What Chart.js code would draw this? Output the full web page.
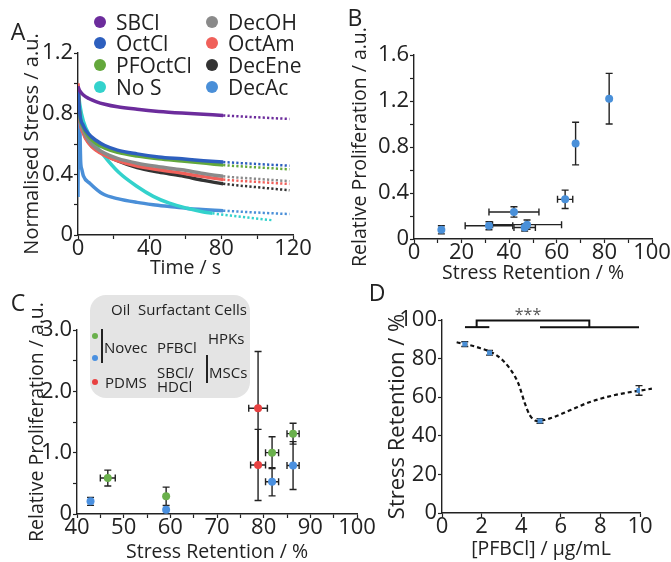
<!DOCTYPE html>
<html>
<head>
<meta charset="utf-8">
<script src="https://cdn.jsdelivr.net/npm/chart.js@4.4.0/dist/chart.umd.min.js"></script>
<style>
  body { margin: 0; background: #fff; font-family: "Open Sans", sans-serif; color: #222; }
  #wrap { position: relative; width: 671px; height: 562px; overflow: hidden; }
  canvas { position: absolute; left: 0; top: 0; }
  .t { position: absolute; white-space: nowrap; transform: translateY(-50%); line-height: 1; }
  .c { transform: translate(-50%, -50%); }
  .dot { position: absolute; border-radius: 50%; transform: translate(-50%, -50%); }
  .bar { position: absolute; width: 2px; background: #222; }
  #keyC { position: absolute; left: 90px; top: 295px; width: 160px; height: 103px; background: #e4e4e4; border-radius: 16px; }
</style>
</head>
<body>
<div id="wrap">
  <div id="keyC"></div>
  <canvas id="chartA" width="671" height="562"></canvas>
  <canvas id="chartB" width="671" height="562"></canvas>
  <canvas id="chartC" width="671" height="562"></canvas>
  <canvas id="chartD" width="671" height="562"></canvas>
  <div id="labels"></div>
</div>
<script>
// ---- A: stress relaxation (time in s, normalised stress) ----
const relaxTime = [0, 1, 3, 6, 10, 15, 22, 33, 45, 58, 70, 81, 100, 118];
const sbcl    = [0.98, 0.95, 0.923, 0.90, 0.88, 0.862, 0.845, 0.829, 0.815, 0.804, 0.796, 0.788, 0.776, 0.765];
const octcl   = [0.97, 0.80, 0.72, 0.665, 0.625, 0.59, 0.56, 0.535, 0.515, 0.502, 0.49, 0.481, 0.468, 0.457];
const pfoctcl = [0.96, 0.79, 0.71, 0.65, 0.605, 0.572, 0.545, 0.521, 0.503, 0.488, 0.474, 0.461, 0.446, 0.433];
const decoh   = [0.97, 0.78, 0.69, 0.62, 0.575, 0.538, 0.505, 0.473, 0.45, 0.43, 0.405, 0.387, 0.37, 0.355];
const octam   = [1.0, 0.77, 0.67, 0.605, 0.56, 0.525, 0.49, 0.455, 0.43, 0.408, 0.385, 0.366, 0.35, 0.336];
const decene  = [0.97, 0.78, 0.68, 0.61, 0.565, 0.53, 0.49, 0.444, 0.415, 0.39, 0.36, 0.338, 0.315, 0.295];
const noSTime = [0, 1, 3, 6.7, 14, 23, 33, 42, 51, 61, 70, 75, 85, 95, 108];
const noS     = [0.97, 0.86, 0.75, 0.65, 0.53, 0.41, 0.32, 0.255, 0.21, 0.176, 0.152, 0.143, 0.128, 0.115, 0.098];
const decAcTime = [0, 0.3, 0.6, 1, 1.5, 2.2, 3, 6.7, 14, 22, 33, 42, 51, 61, 81, 100, 118];
const decAc     = [0.25, 0.85, 0.55, 0.7, 0.48, 0.43, 0.39, 0.34, 0.27, 0.24, 0.215, 0.2, 0.188, 0.175, 0.16, 0.148, 0.138];

// ---- B: proliferation vs stress retention ----
const bRetention = [11.5, 31.5, 42, 46.5, 47.5, 63.5, 67.9, 82];
const bRetErr    = [0, 10, 10.5, 4.5, 14.5, 3.2, 0, 0];
const bProlif    = [0.08, 0.115, 0.235, 0.10, 0.125, 0.345, 0.83, 1.22];
const bProlifErr = [0.035, 0.035, 0.045, 0.03, 0.04, 0.08, 0.185, 0.22];

// ---- C: Novec/PFBCl (HPKs, MSCs) and PDMS/SBCl-HDCl (MSCs) ----
const hpkRet = [46.6, 59.1, 81.8, 86.3];
const hpkRetErr = [1.6, 0, 1.4, 1.3];
const hpkProlif = [0.586, 0.288, 1.0, 1.31];
const hpkProlifErr = [0.13, 0.15, 0.26, 0.17];
const mscRet = [42.9, 59.1, 81.8, 86.3];
const mscRetErr = [0, 0, 1.4, 1.3];
const mscProlif = [0.206, 0.07, 0.526, 0.79];
const mscProlifErr = [0.065, 0, 0.23, 0.39];
const pdmsRet = [78.8, 78.8];
const pdmsRetErr = [2, 1.6];
const pdmsProlif = [1.725, 0.80];
const pdmsProlifErr = [0.925, 0.58];

// ---- D: stress retention vs PFBCl concentration ----
const dConc = [1.15, 2.4, 4.95, 9.95];
const dRet = [87.5, 83, 47.7, 63.5];
const dRetErr = [1.2, 1.2, 1.2, 2.5];
const fitConc = [0.74, 1.75, 2.76, 3.43, 3.86, 4.19, 4.44, 4.78, 5.45, 6.46, 7.47, 8.82, 10.6];
const fitRet  = [88.5, 86, 81.7, 74.8, 67, 56.7, 50.6, 47.7, 49, 53.2, 57.5, 61.3, 64.4];
const sigGroupLow = [1.16, 2.39];
const sigGroupHigh = [4.95, 9.95];
const sigBracketX = [1.75, 7.44];
const sigBarY = 96.3;
const sigBracketY = 99.7;

const INK = '#222';
Chart.defaults.font.family = '"Open Sans", sans-serif';
Chart.defaults.color = INK;
Chart.defaults.animation = false;
Chart.defaults.plugins.legend.display = false;
Chart.defaults.plugins.tooltip.enabled = false;

const zip = (xs, ys) => xs.map((x, i) => ({x, y: ys[i]}));

// draws x/y error bars with caps, under the points
const errorBars = {
  id: 'errorBars',
  beforeDatasetsDraw(chart) {
    const {ctx, scales: {x, y}} = chart;
    ctx.save();
    ctx.strokeStyle = INK;
    ctx.lineWidth = 1.4;
    chart.data.datasets.forEach(ds => {
      if (!ds.yErr && !ds.xErr) return;
      ds.data.forEach((p, i) => {
        const px = x.getPixelForValue(p.x), py = y.getPixelForValue(p.y);
        const ye = ds.yErr ? ds.yErr[i] : 0, xe = ds.xErr ? ds.xErr[i] : 0;
        ctx.beginPath();
        if (ye) {
          const y1 = y.getPixelForValue(p.y + ye), y2 = y.getPixelForValue(p.y - ye);
          ctx.moveTo(px, y1); ctx.lineTo(px, y2);
          ctx.moveTo(px - 3.5, y1); ctx.lineTo(px + 3.5, y1);
          ctx.moveTo(px - 3.5, y2); ctx.lineTo(px + 3.5, y2);
        }
        if (xe) {
          const x1 = x.getPixelForValue(p.x - xe), x2 = x.getPixelForValue(p.x + xe);
          ctx.moveTo(x1, py); ctx.lineTo(x2, py);
          ctx.moveTo(x1, py - 3.5); ctx.lineTo(x1, py + 3.5);
          ctx.moveTo(x2, py - 3.5); ctx.lineTo(x2, py + 3.5);
        }
        ctx.stroke();
      });
    });
    ctx.restore();
  }
};

function axis(o) {
  return {
    type: 'linear', min: o.min, max: o.max,
    border: {color: INK, width: 1.4},
    grid: {drawOnChartArea: false, color: INK, tickLength: 4, tickWidth: 1.2},
    ticks: {
      stepSize: o.step, autoSkip: false, maxRotation: 0, includeBounds: false,
      padding: o.tickPad ?? 1, font: {size: 22, lineHeight: 1}, color: INK,
      callback: v => Math.round((v - o.min) / o.step) % (o.every || 1) ? '' : o.fmt(v)
    },
    title: {display: true, text: o.title, color: INK,
      font: {size: o.titleSize || 19.5, lineHeight: 1}, padding: o.titlePad},
    afterFit: s => { if (o.width) s.width = o.width; if (o.height) s.height = o.height; }
  };
}
const dec1 = v => v === 0 ? '0' : v.toFixed(1);
const int = v => String(Math.round(v));

// ---------- A ----------
const seriesA = [
  {label: 'SBCl', t: relaxTime, v: sbcl, color: '#6c2c9c', dashFrom: 80},
  {label: 'OctCl', t: relaxTime, v: octcl, color: '#2d5fbe', dashFrom: 80},
  {label: 'PFOctCl', t: relaxTime, v: pfoctcl, color: '#64a83c', dashFrom: 80},
  {label: 'DecOH', t: relaxTime, v: decoh, color: '#8a8a8a', dashFrom: 80},
  {label: 'OctAm', t: relaxTime, v: octam, color: '#f0605a', dashFrom: 80},
  {label: 'DecEne', t: relaxTime, v: decene, color: '#333333', dashFrom: 80},
  {label: 'No S', t: noSTime, v: noS, color: '#33d2cc', dashFrom: 74},
  {label: 'DecAc', t: decAcTime, v: decAc, color: '#4a8fd8', dashFrom: 80}
];
new Chart(document.getElementById('chartA'), {
  type: 'scatter',
  data: {
    datasets: seriesA.map(s => ({
      label: s.label, data: zip(s.t, s.v), showLine: true,
      borderColor: s.color, borderWidth: 3.5, pointRadius: 0,
      cubicInterpolationMode: 'monotone',
      segment: {
        borderDash: ctx => ctx.p0.parsed.x >= s.dashFrom ? [2.2, 2.2] : undefined,
        borderWidth: ctx => ctx.p0.parsed.x >= s.dashFrom ? 2.5 : undefined
      }
    }))
  },
  options: {
    responsive: false,
    layout: {padding: {left: 0, top: 53, right: 378, bottom: 272}},
    scales: {
      x: axis({min: 0, max: 120, step: 20, every: 2, fmt: int, title: 'Time / s',
        height: 55, tickPad: -1, titlePad: {bottom: 12}}),
      y: axis({min: 0, max: 1.2, step: 0.2, every: 2, fmt: dec1, title: 'Normalised Stress / a.u.',
        width: 78, titleSize: 20, titlePad: {top: 22}})
    }
  }
});

// ---------- B ----------
new Chart(document.getElementById('chartB'), {
  type: 'scatter',
  data: {
    datasets: [{
      data: zip(bRetention, bProlif), xErr: bRetErr, yErr: bProlifErr,
      pointRadius: 4, backgroundColor: '#4a90d9', borderWidth: 0
    }]
  },
  options: {
    responsive: false,
    layout: {padding: {left: 344, top: 55, right: 19, bottom: 272}},
    scales: {
      x: axis({min: 0, max: 100, step: 10, every: 2, fmt: int, title: 'Stress Retention / %',
        height: 51, tickPad: -1, titlePad: {bottom: 7}}),
      y: axis({min: 0, max: 1.6, step: 0.2, every: 2, fmt: dec1, title: 'Relative Proliferation / a.u.',
        width: 70, titlePad: {top: 7}})
    }
  },
  plugins: [errorBars]
});

// ---------- C ----------
new Chart(document.getElementById('chartC'), {
  type: 'scatter',
  data: {
    datasets: [
      {data: zip(hpkRet, hpkProlif), xErr: hpkRetErr, yErr: hpkProlifErr,
        pointRadius: 4, backgroundColor: '#6ab04c', borderWidth: 0},
      {data: zip(mscRet, mscProlif), xErr: mscRetErr, yErr: mscProlifErr,
        pointRadius: 4, backgroundColor: '#4a90e0', borderWidth: 0},
      {data: zip(pdmsRet, pdmsProlif), xErr: pdmsRetErr, yErr: pdmsProlifErr,
        pointRadius: 4, backgroundColor: '#e84141', borderWidth: 0}
    ]
  },
  options: {
    responsive: false,
    layout: {padding: {left: 0, top: 330, right: 314, bottom: 0}},
    scales: {
      x: axis({min: 40, max: 100, step: 5, every: 2, fmt: int, title: 'Stress Retention / %',
        height: 48, tickPad: -1, titlePad: {bottom: 0}}),
      y: axis({min: 0, max: 3, step: 0.5, every: 2, fmt: dec1, title: 'Relative Proliferation / a.u.',
        width: 77, titlePad: {top: 28}})
    }
  },
  plugins: [errorBars]
});

// ---------- D ----------
const line = (xs, ys) => ({type: 'line', data: zip(xs, ys), borderColor: '#111', borderWidth: 2,
  pointRadius: 0, clip: false});
new Chart(document.getElementById('chartD'), {
  type: 'scatter',
  data: {
    datasets: [
      {data: zip(dConc, dRet), yErr: dRetErr, pointRadius: 3.5, pointStyle: 'rect',
        backgroundColor: '#4a8fd6', borderWidth: 0},
      {type: 'line', data: zip(fitConc, fitRet), borderColor: '#111', borderWidth: 2.2,
        borderDash: [4, 3], pointRadius: 0, cubicInterpolationMode: 'monotone', clip: false},
      line(sigGroupLow, [sigBarY, sigBarY]),
      line(sigGroupHigh, [sigBarY, sigBarY]),
      line([sigBracketX[0], sigBracketX[0], sigBracketX[1], sigBracketX[1]],
           [sigBarY, sigBracketY, sigBracketY, sigBarY])
    ]
  },
  options: {
    responsive: false,
    layout: {padding: {left: 380, top: 320, right: 31, bottom: 0}},
    scales: {
      x: axis({min: 0, max: 10, step: 2, fmt: int, title: '[PFBCl] / μg/mL',
        height: 49, tickPad: -1, titlePad: {bottom: 3}}),
      y: axis({min: 0, max: 100, step: 20, fmt: int, title: 'Stress Retention / %',
        width: 62, titleSize: 22, titlePad: {top: 7}})
    }
  },
  plugins: [errorBars]
});

// ---------- text: panel letters, legends ----------
const labels = document.getElementById('labels');
function text(str, x, y, size, extra = '') {
  const d = document.createElement('div');
  d.className = 't' + extra;
  d.style.left = x + 'px'; d.style.top = y + 'px'; d.style.fontSize = size + 'px';
  d.innerHTML = str;
  labels.appendChild(d);
  return d;
}
function dot(x, y, r, color) {
  const d = document.createElement('div');
  d.className = 'dot';
  Object.assign(d.style, {left: x + 'px', top: y + 'px', width: 2 * r + 'px', height: 2 * r + 'px', background: color});
  labels.appendChild(d);
}
function vbar(x, y1, y2) {
  const d = document.createElement('div');
  d.className = 'bar';
  Object.assign(d.style, {left: x + 'px', top: y1 + 'px', height: (y2 - y1) + 'px'});
  labels.appendChild(d);
}

text('A', 18, 31, 23, ' c');
text('B', 355, 17, 23, ' c');
text('C', 18, 302, 23, ' c');
text('D', 377, 292, 23, ' c');

// legend A: two columns
const legendRowsY = [22, 43, 65, 87];
const legendOrder = [0, 1, 2, 6, 3, 4, 5, 7];
legendOrder.forEach((si, k) => {
  const s = seriesA[si];
  const cx = k < 4 ? 100 : 212, ty = legendRowsY[k % 4];
  dot(cx, ty, 6, s.color);
  text(s.label, cx + 16, ty, 21);
});

// legend C
text('Oil&nbsp; Surfactant Cells', 111, 309, 15);
dot(95, 336, 3, '#6ab04c');
dot(95, 358, 3, '#4a90e0');
dot(95, 382, 3, '#e84141');
vbar(101, 329, 363);
text('Novec', 104, 347, 15);
text('PFBCl', 157, 347, 15);
text('HPKs', 208, 338, 15);
vbar(206, 355, 383);
text('MSCs', 209, 372, 15);
text('PDMS', 105, 382, 15);
text('SBCl/', 157, 372, 15);
text('HDCl', 157, 386, 15);

// significance stars in D
text('***', 528, 314, 16, ' c').style.color = '#555';
</script>
</body>
</html>
